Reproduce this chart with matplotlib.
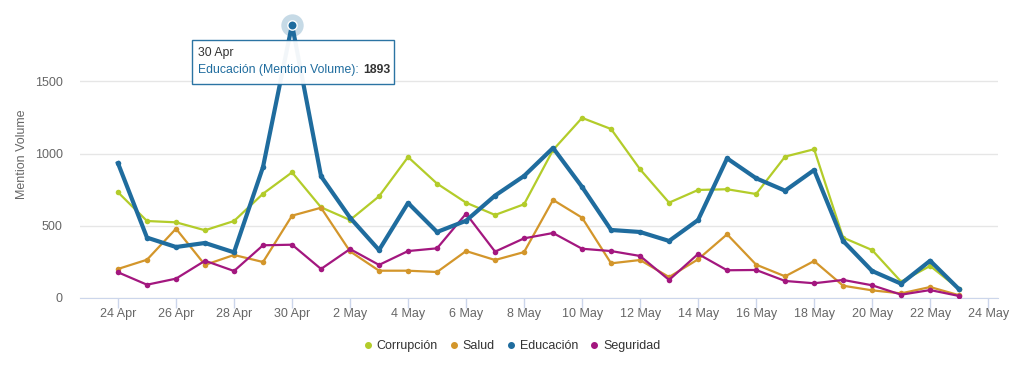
import matplotlib
matplotlib.use("Agg")
import matplotlib.pyplot as plt
from matplotlib.patches import FancyBboxPatch
from matplotlib.lines import Line2D

plt.rcParams["font.family"] = ["Liberation Sans", "DejaVu Sans"]

# ─── Data ────────────────────────────────────────────────────
dates = ["24 Apr", "25 Apr", "26 Apr", "27 Apr", "28 Apr", "29 Apr", "30 Apr",
         "1 May", "2 May", "3 May", "4 May", "5 May", "6 May", "7 May", "8 May",
         "9 May", "10 May", "11 May", "12 May", "13 May", "14 May", "15 May",
         "16 May", "17 May", "18 May", "19 May", "20 May", "21 May", "22 May",
         "23 May"]
tick_labels = ["24 Apr", "26 Apr", "28 Apr", "30 Apr", "2 May", "4 May", "6 May",
               "8 May", "10 May", "12 May", "14 May", "16 May", "18 May",
               "20 May", "22 May", "24 May"]

corrupcion = [732, 533, 524, 469, 533, 722, 870, 628, 540, 704, 976, 792, 660,
              575, 649, 1025, 1247, 1170, 891, 660, 748, 753, 720, 979, 1030,
              418, 332, 113, 222, 62]
salud = [201, 265, 480, 229, 298, 249, 570, 625, 323, 189, 189, 180, 325, 263,
         318, 679, 556, 240, 263, 145, 268, 441, 231, 150, 256, 85, 53, 32, 76, 19]
educacion = [933, 418, 353, 381, 316, 907, 1893, 843, 556, 332, 658, 457, 535,
             709, 845, 1039, 769, 471, 457, 395, 540, 967, 829, 743, 886, 395,
             187, 99, 258, 60]
seguridad = [178, 92, 134, 258, 187, 365, 369, 201, 339, 229, 325, 344, 584, 321,
             413, 450, 341, 325, 291, 125, 305, 192, 194, 118, 102, 125, 88, 23,
             55, 14]

series = [
    ("Corrupción", corrupcion, "#b3cc2a", 1.6),
    ("Salud", salud, "#d3962b", 1.6),
    ("Educación", educacion, "#1f6c9e", 3.0),
    ("Seguridad", seguridad, "#a3177f", 1.6),
]

peak_idx = 6
peak_name = "Educación"

# ─── Plot ────────────────────────────────────────────────────
W, H = 1024, 371
fig = plt.figure(figsize=(W / 100, H / 100), dpi=100)
fig.patch.set_facecolor("white")
ax = fig.add_axes([80 / W, (H - 298) / H, 918 / W, 288 / H])

x = list(range(len(dates)))
for name, vals, col, lw in series:
    ax.plot(x, vals, color=col, linewidth=lw, marker="o", markersize=4,
            markeredgewidth=0, zorder=3 if name != peak_name else 4)

# hover halo on the peak point
peak_val = educacion[peak_idx]
ax.scatter([x[peak_idx]], [peak_val], s=260, color="#1f6c9e", alpha=0.25,
           linewidths=0, zorder=5, clip_on=False)
ax.scatter([x[peak_idx]], [peak_val], s=45, color="#1f6c9e",
           edgecolors="white", linewidths=1, zorder=6, clip_on=False)

ax.set_xlim(-1.31, 30.34)
ax.set_ylim(0, 1994)
ax.set_yticks([0, 500, 1000, 1500])
ax.set_xticks(list(range(0, 31, 2)))
ax.set_xticklabels(tick_labels)

ax.grid(axis="y", color="#e6e6e6", linewidth=1)
ax.set_axisbelow(True)
for side in ("top", "right", "left"):
    ax.spines[side].set_visible(False)
ax.spines["bottom"].set_color("#ccd6eb")
ax.tick_params(axis="x", colors="#ccd6eb", length=7, width=1, labelcolor="#666666",
               labelsize=9, pad=0.5)
ax.tick_params(axis="y", length=0, labelcolor="#666666", labelsize=9, pad=12.5)
ax.set_ylabel("Mention Volume", color="#666666", fontsize=9)
ax.yaxis.set_label_coords(-52 / 918, 0.5)

# Tooltip
tx0, ty0, tw, th = 192 / W, (H - 84) / H, 202 / W, 44 / H
box = FancyBboxPatch((tx0, ty0), tw, th, boxstyle="square,pad=0",
                     transform=fig.transFigure, facecolor="white",
                     edgecolor="#1f6c9e", linewidth=1, zorder=10, alpha=0.95)
fig.patches.append(box)
fig.text(198 / W, (H - 53) / H, dates[peak_idx], fontsize=8.8, color="#333333",
         va="center", zorder=11)
t1 = fig.text(198 / W, (H - 70) / H, f"{peak_name} (Mention Volume):", fontsize=8.8,
              color="#1f6c9e", va="center", zorder=11)
fig.canvas.draw()
bb = t1.get_window_extent()
fig.text((bb.x1 + 4) / W, (H - 70) / H, f"{peak_val}", fontsize=8.8,
         color="#333333", fontweight="bold", va="center", zorder=11)

# Legend
handles = [Line2D([0], [0], linestyle="none", marker="o", markersize=4,
                  color=col) for _, _, col, _ in series]
fig.legend(handles, [s[0] for s in series], loc="center",
           bbox_to_anchor=(0.5, (H - 346) / H), ncol=4, frameon=False,
           fontsize=9, handlelength=0.6, handletextpad=0.4, columnspacing=1.0,
           labelcolor="#333333")

fig.savefig("out.png", dpi=100, facecolor="white")
plt.close(fig)
